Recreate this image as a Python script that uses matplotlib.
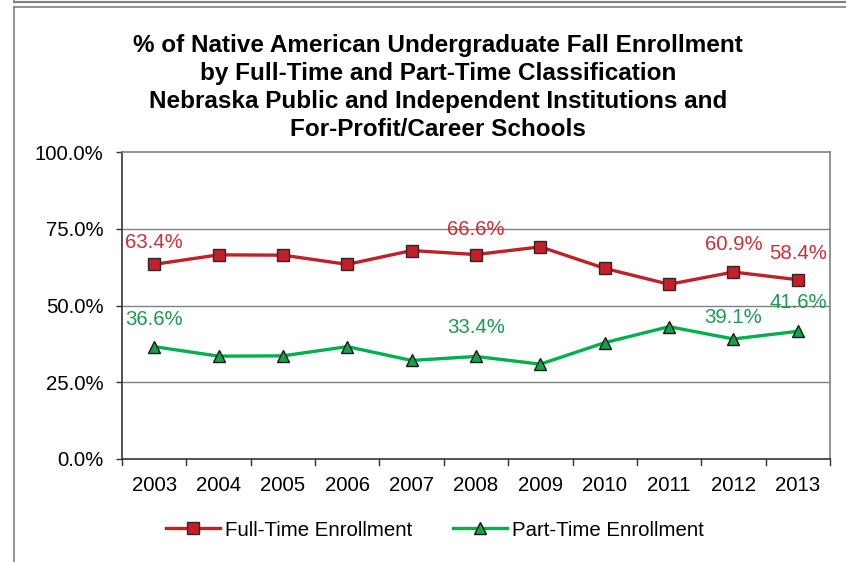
import matplotlib
matplotlib.use("Agg")
import matplotlib.pyplot as plt
from matplotlib.lines import Line2D

plt.rcParams['font.family'] = ['Liberation Sans', 'DejaVu Sans']

years = ["2003", "2004", "2005", "2006", "2007", "2008", "2009", "2010", "2011", "2012", "2013"]
full_time = [63.4, 66.5, 66.4, 63.4, 67.9, 66.6, 69.1, 62.1, 56.9, 60.9, 58.4]
part_time = [36.6, 33.5, 33.6, 36.6, 32.1, 33.4, 30.9, 37.9, 43.1, 39.1, 41.6]
labeled_idx = [0, 5, 9, 10]
y_ticks = [0, 25, 50, 75, 100]
title = ("% of Native American Undergraduate Fall Enrollment\n"
         "by Full-Time and Part-Time Classification\n"
         "Nebraska Public and Independent Institutions and\n"
         "For-Profit/Career Schools")

# vertical label offsets (points) for labeled points, style only
red_offsets = [12, 14.4, 15.6, 15.1]
green_offsets = [15.6, 16.6, 11.5, 16.6]

red_line = "#C0202A"
red_fill = "#C41E28"
red_text = "#C8303A"
green_line = "#00B04C"
green_fill = "#1AA048"
green_text = "#1E9A50"
FS = 14.7

fig = plt.figure(figsize=(8.46, 5.62), dpi=100)
W, H = 846, 562

# outer frame lines
tf = fig.transFigure
fig.add_artist(Line2D([14/W, 14/W], [0, 1 - 7/H], color="#808080", lw=1.2, transform=tf))
fig.add_artist(Line2D([14/W, 1], [1 - 7/H, 1 - 7/H], color="#808080", lw=1.2, transform=tf))
fig.add_artist(Line2D([14/W, 1], [1 - 2/H, 1 - 2/H], color="#808080", lw=1.5, transform=tf))
fig.add_artist(Line2D([14/W, 14/W], [1 - 2/H, 1], color="#808080", lw=1.2, transform=tf))

left, right, top, bottom = 122, 830, 152, 459
ax = fig.add_axes([left/W, 1 - bottom/H, (right-left)/W, (bottom-top)/H])

x = list(range(len(years)))
ax.plot(x, full_time, color=red_line, lw=2.4, marker="s", markersize=8.5,
        markerfacecolor=red_fill, markeredgecolor="#2a2a2a", markeredgewidth=1.0, zorder=3)
ax.plot(x, part_time, color=green_line, lw=2.4, marker="^", markersize=8.5,
        markerfacecolor=green_fill, markeredgecolor="#1a1a1a", markeredgewidth=1.0, zorder=3)

for k, i in enumerate(labeled_idx):
    ax.annotate(f"{full_time[i]:.1f}%", (x[i], full_time[i]), xytext=(0, red_offsets[k]),
                textcoords="offset points", ha="center", va="baseline",
                fontsize=FS, color=red_text)
    ax.annotate(f"{part_time[i]:.1f}%", (x[i], part_time[i]), xytext=(0, green_offsets[k]),
                textcoords="offset points", ha="center", va="baseline",
                fontsize=FS, color=green_text)

ax.set_xlim(-0.5, len(years) - 0.5)
ax.set_ylim(0, 100)
ax.set_yticks(y_ticks)
ax.set_yticklabels([f"{v:.1f}%" for v in y_ticks], fontsize=FS)
ax.set_xticks(x)
ax.set_xticklabels(years, fontsize=FS)
ax.tick_params(axis="x", length=0, pad=12.5)
ax.tick_params(axis="y", length=4.3, width=1, direction="out", pad=9, color="#333333")
# category boundary ticks
for b in [i - 0.5 for i in range(len(years) + 1)]:
    ax.plot([b, b], [0, -1.8], color="#333333", lw=1, clip_on=False)

for g in y_ticks[1:-1]:
    ax.axhline(g, color="#808080", lw=1.0, zorder=1)

for s in ["top", "right"]:
    ax.spines[s].set_color("#808080")
    ax.spines[s].set_linewidth(1.2)
for s in ["left", "bottom"]:
    ax.spines[s].set_color("#333333")
    ax.spines[s].set_linewidth(1.2)

fig.text(438/W, 1 - 87.5/H, title, ha="center", va="center",
         fontsize=17.5, fontweight="bold", linespacing=1.28)

handles = [
    Line2D([], [], color=red_line, lw=2.4, marker="s", markersize=8.5,
           markerfacecolor=red_fill, markeredgecolor="#2a2a2a"),
    Line2D([], [], color=green_line, lw=2.4, marker="^", markersize=8.5,
           markerfacecolor=green_fill, markeredgecolor="#1a1a1a"),
]
fig.legend(handles, ["Full-Time Enrollment", "Part-Time Enrollment"],
           loc="center", bbox_to_anchor=(435/W, 1 - 530/H), ncol=2, frameon=False,
           fontsize=FS, handlelength=2.65, handletextpad=0.25, columnspacing=2.0)

fig.savefig("out.png", dpi=100)
